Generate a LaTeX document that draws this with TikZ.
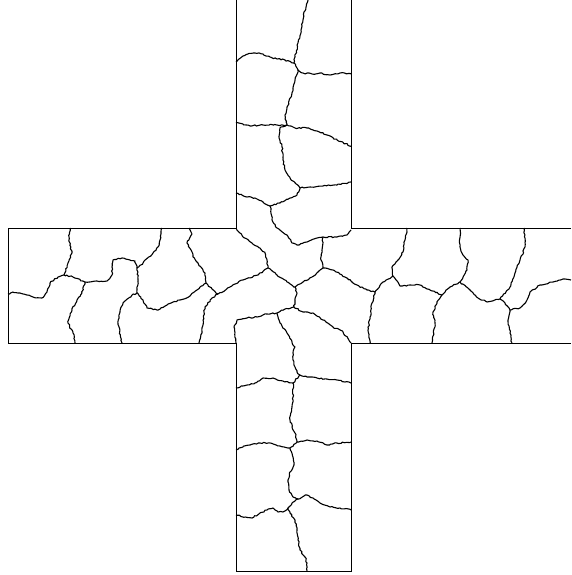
\documentclass[tikz,border=0pt]{standalone}
\usetikzlibrary{decorations.pathmorphing}
\begin{document}
\begin{tikzpicture}[x=1pt,y=-1pt,
  outline/.style={line width=1pt,black},
  gb/.style={line width=1.1pt,black,line join=round,decorate,
    decoration={random steps,segment length=2pt,amplitude=0.7pt}}]
\pgfmathsetseed{7}
\useasboundingbox (0,0) rectangle (571,575);
% outline of the cross
\draw[outline] (571,228) -- (351,228) -- (351,0) -- (236,0) -- (236,228) -- (8,228)
  -- (8,343) -- (236,343) -- (236,571) -- (351,571) -- (351,343) -- (571,343);
% junctions
\coordinate (J1) at (294,63);  \coordinate (J2) at (298,70);
\coordinate (J3) at (287,125); \coordinate (J4) at (300,188);
\coordinate (J5) at (270,206); \coordinate (J6) at (323,237);
\coordinate (J7) at (323,268); \coordinate (J8) at (375,292);
\coordinate (J9) at (393,276); \coordinate (J10) at (442,295);
\coordinate (J11) at (460,282);\coordinate (J12) at (500,299);
\coordinate (J13) at (510,310);\coordinate (J14) at (268,268);
\coordinate (J15) at (295,287);\coordinate (J16) at (294,307);
\coordinate (J17) at (277,313);\coordinate (J18) at (218,294);
\coordinate (J19) at (206,283);\coordinate (J20) at (137,293);
\coordinate (J21) at (64,275); \coordinate (J22) at (85,282);
\coordinate (J23) at (137,268);\coordinate (J24) at (300,375);
\coordinate (J25) at (293,383);\coordinate (J26) at (297,442);
\coordinate (J27) at (290,448);\coordinate (J28) at (298,499);
\coordinate (J29) at (288,508);
% top arm
\draw[gb] (308,0) -- (306,7) -- (304,12) -- (303,20) -- (301,30) -- (298,43) -- (295,57) -- (J1);
\draw[gb] (J1) -- (J2);
\draw[gb] (J1) -- (285,60) -- (277,59) -- (270,57) -- (263,54) -- (255,53) -- (248,54) -- (243,56) -- (236,62);
\draw[gb] (J2) -- (303,73) -- (312,74) -- (320,73) -- (330,75) -- (340,73) -- (351,74);
\draw[gb] (J2) -- (295,80) -- (293,88) -- (291,97) -- (287,107) -- (285,115) -- (286,122) -- (J3);
\draw[gb] (J3) -- (277,125) -- (263,125) -- (250,126) -- (243,124) -- (236,122);
\draw[gb] (J3) -- (295,128) -- (307,128) -- (317,131) -- (327,135) -- (337,140) -- (351,146);
\draw[gb] (J3) -- (280,128) -- (279,137) -- (282,147) -- (283,160) -- (285,170) -- (290,178) -- (J4);
\draw[gb] (J4) -- (310,187) -- (323,186) -- (337,185) -- (351,182);
\draw[gb] (J4) -- (297,195) -- (290,198) -- (280,203) -- (J5);
\draw[gb] (J5) -- (263,202) -- (255,198) -- (247,197) -- (236,193);
\draw[gb] (J5) -- (272,220) -- (277,228) -- (287,235) -- (292,243) -- (297,245) -- (307,242) -- (317,238) -- (J6);
\draw[gb] (J6) -- (337,237) -- (347,235) -- (351,230);
\draw[gb] (J6) -- (322,250) -- (321,260) -- (J7);
% centre and right arm
\draw[gb] (236,228) -- (243,237) -- (252,243) -- (260,248) -- (265,253) -- (267,260) -- (J14);
\draw[gb] (J14) -- (277,275) -- (287,282) -- (J15);
\draw[gb] (J15) -- (303,282) -- (312,277) -- (318,272) -- (J7);
\draw[gb] (J15) -- (297,293) -- (295,300) -- (J16);
\draw[gb] (J16) -- (303,312) -- (313,313) -- (323,320) -- (333,327) -- (343,332) -- (351,343);
\draw[gb] (J16) -- (285,309) -- (J17);
\draw[gb] (J17) -- (280,323) -- (287,333) -- (292,342) -- (295,347) -- (293,353) -- (293,360) -- (295,367) -- (297,372) -- (J24);
\draw[gb] (J17) -- (267,314) -- (257,317) -- (247,318) -- (237,320) -- (234,327) -- (236,343);
\draw[gb] (J7) -- (333,270) -- (347,278) -- (357,285) -- (367,290) -- (J8);
\draw[gb] (J8) -- (383,282) -- (J9);
\draw[gb] (J8) -- (372,303) -- (370,317) -- (368,330) -- (370,343);
\draw[gb] (J9) -- (392,267) -- (398,260) -- (403,252) -- (405,240) -- (407,228);
\draw[gb] (J9) -- (400,286) -- (410,285) -- (420,285) -- (430,290) -- (J10);
\draw[gb] (J10) -- (437,303) -- (433,312) -- (435,323) -- (432,343);
\draw[gb] (J10) -- (450,287) -- (J11);
\draw[gb] (J11) -- (467,270) -- (468,260) -- (463,255) -- (460,247) -- (460,228);
\draw[gb] (J11) -- (470,290) -- (478,298) -- (487,302) -- (J12);
\draw[gb] (J12) -- (510,287) -- (515,273) -- (520,260) -- (525,247) -- (524,228);
\draw[gb] (J12) -- (505,303) -- (J13);
\draw[gb] (J13) -- (508,320) -- (510,333) -- (512,343);
\draw[gb] (J13) -- (520,308) -- (527,300) -- (530,292) -- (540,285) -- (553,282) -- (563,279) -- (571,280);
% left arm
\draw[gb] (J14) -- (258,275) -- (243,280) -- (230,287) -- (J18);
\draw[gb] (J18) -- (212,289) -- (J19);
\draw[gb] (J18) -- (212,298) -- (205,307) -- (203,320) -- (202,333) -- (199,343);
\draw[gb] (J19) -- (205,273) -- (198,263) -- (193,257) -- (192,252) -- (187,243) -- (192,234) -- (189,228);
\draw[gb] (J19) -- (200,287) -- (190,296) -- (180,300) -- (167,305) -- (157,310) -- (147,308) -- (143,300) -- (J20);
\draw[gb] (J20) -- (138,282) -- (J23);
\draw[gb] (J20) -- (132,295) -- (123,303) -- (120,312) -- (118,323) -- (122,343);
\draw[gb] (J23) -- (143,263) -- (153,253) -- (158,247) -- (160,240) -- (162,228);
\draw[gb] (J23) -- (135,261) -- (130,260) -- (122,258) -- (113,260) -- (112,267) -- (112,275) -- (107,281) -- (97,281) -- (J22);
\draw[gb] (J22) -- (73,277) -- (J21);
\draw[gb] (J22) -- (82,293) -- (77,300) -- (72,310) -- (68,323) -- (73,333) -- (75,343);
\draw[gb] (J21) -- (68,263) -- (72,253) -- (69,240) -- (70,228);
\draw[gb] (J21) -- (58,277) -- (50,283) -- (47,292) -- (42,298) -- (33,297) -- (27,295) -- (20,293) -- (13,292) -- (8,294);
% bottom arm
\draw[gb] (J24) -- (307,377) -- (317,378) -- (327,379) -- (337,380) -- (345,382) -- (351,383);
\draw[gb] (J24) -- (J25);
\draw[gb] (J25) -- (283,381) -- (273,378) -- (263,378) -- (255,383) -- (247,385) -- (236,388);
\draw[gb] (J25) -- (293,397) -- (292,407) -- (290,420) -- (292,427) -- (295,433) -- (J26);
\draw[gb] (J26) -- (307,440) -- (317,441) -- (327,445) -- (337,443) -- (351,442);
\draw[gb] (J26) -- (J27);
\draw[gb] (J27) -- (280,446) -- (270,443) -- (260,443) -- (250,445) -- (243,447) -- (236,450);
\draw[gb] (J27) -- (293,457) -- (294,465) -- (290,472) -- (288,480) -- (289,490) -- (293,497) -- (J28);
\draw[gb] (J28) -- (307,495) -- (313,498) -- (320,503) -- (330,507) -- (340,508) -- (351,510);
\draw[gb] (J28) -- (292,503) -- (J29);
\draw[gb] (J29) -- (283,512) -- (278,512) -- (273,508) -- (267,510) -- (260,513) -- (252,518) -- (243,517) -- (236,515);
\draw[gb] (J29) -- (290,513) -- (295,520) -- (297,530) -- (298,540) -- (300,550) -- (305,557) -- (307,563) -- (307,571);
\end{tikzpicture}
\end{document}
